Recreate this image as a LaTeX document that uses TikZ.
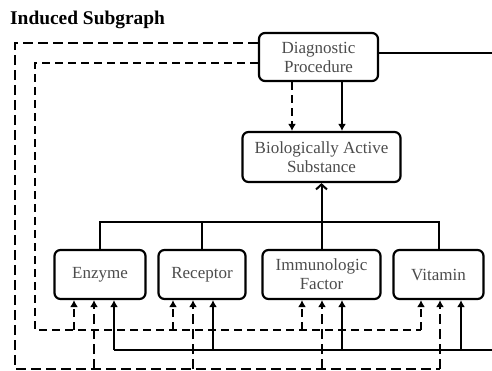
\documentclass[tikz,border=0pt]{standalone}
\usepackage{fontspec}
\setmainfont{Liberation Serif}
\usepackage{tikz}
\usetikzlibrary{arrows.meta, calc}

\begin{document}
\begin{tikzpicture}[x=1pt,y=-1pt]
      \tikzset{concept box/.style={draw=black,
          line width=2.2pt,
          rounded corners=6pt,
          align=center,
          inner sep=0pt,
          text=black!70,
          font=\fontsize{17}{19}\selectfont},
        plain link/.style={line width=2pt},
        long dash/.style={line width=2pt, dash pattern=on 10pt off 5pt},
        short dash/.style={line width=2pt, dash pattern=on 8pt off 5pt},
        filled tip/.style={-{Latex[length=7pt,width=8pt]}},
        open tip/.style={-{Straight Barb[length=5pt,width=11pt]}}
      }
      \useasboundingbox (0,0) rectangle (492,371);
      \node [anchor=base west, inner sep=0pt,
        font=\fontsize{19.4}{22}\selectfont\bfseries] (title) at (10,25) {Induced Subgraph};

      \node [concept box, minimum width=119pt, minimum height=48pt] (dp) at (318.5,57) {Diagnostic\\Procedure};
      \node [concept box, minimum width=158pt, minimum height=50pt] (bas) at (321.5,157) {Biologically Active\\Substance};
      \node [concept box, minimum width=91pt, minimum height=49pt] (enz) at (100,274.5) {Enzyme};
      \node [concept box, minimum width=87pt, minimum height=49pt] (rec) at (202,274.5) {Receptor};
      \node [concept box, minimum width=118pt, minimum height=49pt] (imm) at (321.5,274.5) {Immunologic\\Factor};
      \node [concept box, minimum width=90pt, minimum height=49pt] (vit) at (438.5,274.5) {Vitamin};

      % from the procedure down to the substance
      \coordinate (dp-l) at ($(dp.south)+(-26.5,0)$);
      \coordinate (dp-r) at ($(dp.south)+(23.5,0)$);
      \draw [short dash, filled tip] (dp-l) -- (dp-l |- bas.north);
      \draw [plain link, filled tip] (dp-r) -- (dp-r |- bas.north);

      % the four kinds joined under the substance
      \coordinate (bus) at ($(bas.south)+(0,39)$);
      \draw [plain link] (enz.north) |- (bus) -| (vit.north);
      \draw [plain link] (rec.north) -- (rec.north |- bus);
      \draw [plain link] (imm.north) -- (imm.north |- bus);
      \draw [plain link, open tip] (bus) -- (bas.south);

      % three feeds into each kind
      \foreach \n/\a/\b/\c in {enz/74/94/114, rec/173/193/213, imm/302/322/342, vit/421/440/461}{
        \coordinate (\n-1) at (\a,330);
        \coordinate (\n-2) at (\b,369);
        \coordinate (\n-3) at (\c,350);
        \draw [short dash, filled tip] (\n-1) -- (\n-1 |- \n.south);
        \draw [long dash, filled tip] (\n-2) -- (\n-2 |- \n.south);
        \draw [plain link, filled tip] (\n-3) -- (\n-3 |- \n.south);
      }
      \coordinate (inner corner) at (35,330);
      \coordinate (outer corner) at (15,369);
      \coordinate (right corner) at (510,350);
      \draw [short dash] ($(dp.west)+(0,6)$) -| (inner corner) -- (vit-1);
      \draw [long dash] ($(dp.west)+(0,-14)$) -| (outer corner) -- (vit-2);
      \draw [plain link] ($(dp.east)+(0,-4)$) -| (right corner) -- (enz-3);

    \end{tikzpicture}
\end{document}
